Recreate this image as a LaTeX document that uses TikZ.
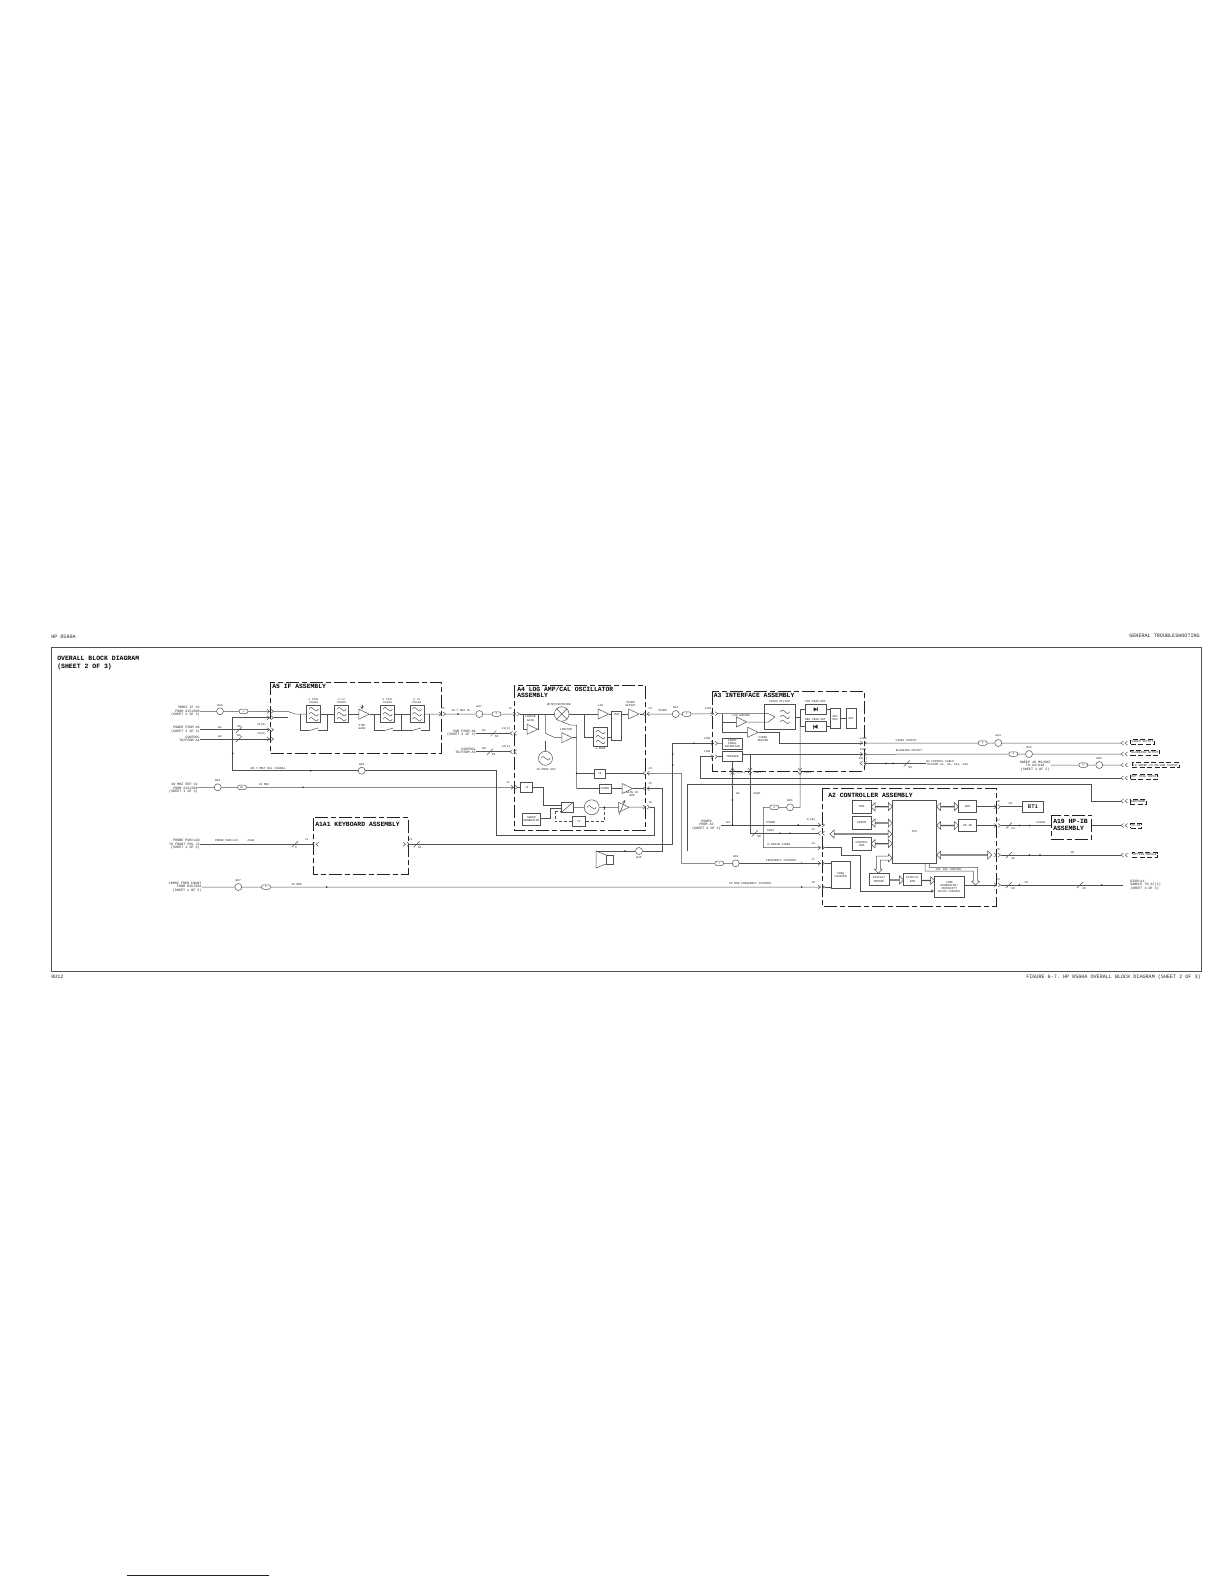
\documentclass[tikz,border=0pt]{standalone}
\usepackage{fontspec}
\setmonofont{Liberation Mono}
\usetikzlibrary{shapes.geometric,shapes.misc,shapes.arrows}
\definecolor{myink}{RGB}{80,80,80}
\definecolor{mytext}{RGB}{35,35,35}
\definecolor{mylink}{RGB}{20,20,150}
\tikzset{
  % wires and frames
  ln/.style={draw=myink},
  asm/.style={draw=mytext,line width=0.9pt,dash pattern=on 13pt off 3pt on 5pt off 3pt},
  dash1/.style={draw=myink,dash pattern=on 3pt off 2pt},
  % text
  hdr/.style={inner sep=0mm,text=mytext,font=\ttfamily\fontsize{5.1}{5.6}\selectfont,align=left},
  ttl/.style={inner sep=0mm,text=black,font=\ttfamily\bfseries\fontsize{6.4}{7}\selectfont,align=left},
  lbl/.style={inner sep=0mm,text=mytext,font=\ttfamily\fontsize{3.4}{3.7}\selectfont,align=center},
  sm/.style={inner sep=0mm,text=mytext,font=\ttfamily\fontsize{2.9}{3.3}\selectfont,align=center},
  % blocks
  box/.style={rectangle,draw=myink,inner sep=0mm,text=mytext,font=\ttfamily\fontsize{2.9}{3.3}\selectfont,align=center},
  dbox/.style={rectangle,draw=mytext,line width=0.7pt,dash pattern=on 5pt off 2.5pt,inner xsep=1pt,inner ysep=1.4pt,text=mytext,font=\ttfamily\fontsize{3}{3.3}\selectfont},
  cab/.style={circle,draw=myink,inner sep=0mm,minimum size=7pt},
  pil/.style={rounded rectangle,draw=myink,inner sep=0mm,minimum width=9pt,minimum height=4.5pt,text=mytext,font=\ttfamily\fontsize{2.6}{3}\selectfont},
  ampn/.style={isosceles triangle,isosceles triangle stretches,draw=myink,inner sep=0mm,minimum width=10pt,minimum height=10.5pt},
  busd/.style={double arrow,draw=myink,inner sep=0mm,minimum width=8pt,double arrow head extend=2pt},
  buss/.style={single arrow,draw=myink,inner sep=0mm,minimum width=8pt,single arrow head extend=2pt},
  every picture/.style={line width=0.5pt}
}
% connector pairs, names give #1-a and #1-b
\newcommand\jackr[3]{\coordinate (#1-a) at (#2+2.5,#3); \coordinate (#1-b) at (#2+6.5,#3);
  \draw[ln] (#2,#3-2) -- (#2+2.5,#3) -- (#2,#3+2) (#2+4,#3-2) -- (#2+6.5,#3) -- (#2+4,#3+2);}
\newcommand\jackl[3]{\coordinate (#1-a) at (#2,#3); \coordinate (#1-b) at (#2+4,#3);
  \draw[ln] (#2+2.5,#3-2) -- (#2,#3) -- (#2+2.5,#3+2) (#2+6.5,#3-2) -- (#2+4,#3) -- (#2+6.5,#3+2);}
\newcommand\jackd[2]{\draw[ln] (#1-2,#2) -- (#1,#2+2.5) -- (#1+2,#2) (#1-2,#2+4) -- (#1,#2+6.5) -- (#1+2,#2+4);}
\newcommand\jacku[2]{\draw[ln] (#1-2,#2+2.5) -- (#1,#2) -- (#1+2,#2+2.5) (#1-2,#2+6.5) -- (#1,#2+4) -- (#1+2,#2+6.5);}
% marks on wires
\newcommand\adot[2]{\fill[mytext] (#1,#2) circle (0.9);}
\newcommand\slashm[2]{\draw[ln] (#1-3,#2+3) -- (#1+3,#2-3);}
\newcommand\swarm[3]{\draw[ln] (#1,#3) -- (#2,#3-2.7);}
\newcommand\wavs[2]{\draw[ln] (#1-4.5,#2) .. controls (#1-1.5,#2-6) and (#1+1.5,#2+6) .. (#1+4.5,#2);}
\newcommand\wav[2]{\wavs{#1}{#2-5}\wavs{#1}{#2}\wavs{#1}{#2+5}}
\newcommand\diode[3]{\fill[mytext] (#1-#3*2,#2-2) -- (#1+#3*2,#2) -- (#1-#3*2,#2+2) -- cycle; \draw[ln] (#1+#3*2,#2-2) -- (#1+#3*2,#2+2);}
\begin{document}
\begin{tikzpicture}[x=1pt,y=-1pt]
\useasboundingbox (0,0) rectangle (1224,1584);
\draw[ln] (51,647.5) rectangle (1201,971);
\node[hdr,anchor=west] (thp) at (51,637) {HP 8560A};
\node[hdr,anchor=east] (tgen) at (1200,636) {GENERAL TROUBLESHOOTING};
\node[hdr,anchor=west] (tpg) at (51,977) {0U12};
\node[hdr,anchor=east] (tfig) at (1201,977) {FIGURE 6-7. HP 8560A OVERALL BLOCK DIAGRAM (SHEET 2 OF 3)};
\node[ttl,anchor=west,font=\ttfamily\bfseries\fontsize{6.5}{7}\selectfont] (ttop) at (57,658) {OVERALL BLOCK DIAGRAM};
\node[ttl,anchor=west,font=\ttfamily\bfseries\fontsize{6.5}{7}\selectfont] (tsub) at (57,667) {(SHEET 2 OF 3)};
\coordinate (lk1) at (127.3,1575);
\coordinate (lk2) at (268.7,1575);
\draw[mylink,line width=1pt] (lk1) -- (lk2);
%%%%%%%%%%%%%%%%%%%%%%%%%%%%%%%%%%%%%%% A5
\draw[asm] (270,682) rectangle (441.7,753);
\node[ttl,anchor=west] (ta5) at (272,686) {A5 IF ASSEMBLY};
\jackr{ja}{267}{711.3}
\jackr{jb}{267}{717.7}
\jackr{jc}{267}{729.7}
\jackr{jd}{267}{739}
\jackr{jp1}{439}{714}
\node[lbl,anchor=east,align=right] (tin1) at (200,711.3) {70MHZ IF \#2\\FROM A15J600\\(SHEET 1 OF 3)};
\node[lbl,anchor=east,align=right] (tin2) at (200,729.7) {POWER FROM A6\\(SHEET 3 OF 3)};
\node[lbl,anchor=east,align=right] (tin3) at (200,739) {CONTROL\\TO/FROM A4};
\node[cab] (w20) at (220,711.3) {};
\node[sm] (tw20) at (220,705.5) {W20};
\node[pil] (p1) at (243.5,711.3) {1};
\node[sm] (tw1a) at (220,727.5) {W1};
\node[sm] (tw2a) at (220,737) {W2};
\node[sm] (t50a) at (239,726.5) {50};
\node[sm] (t50b) at (239,736) {W5};
\node[sm] (tj1a) at (261.5,724.7) {J1(8)};
\node[sm] (tj2a) at (261.5,734) {J2(6)};
\node[box,minimum width=14pt,minimum height=17pt] (f1) at (313.7,714.2) {};
\node[box,minimum width=14pt,minimum height=17pt] (f2) at (341.7,714.2) {};
\node[ampn] (astep) at (362,714.2) {};
\node[box,minimum width=14pt,minimum height=17pt] (f3) at (387.7,714.2) {};
\node[box,minimum width=14pt,minimum height=17pt] (f4) at (417,714.2) {};
\wav{313.7}{714.2}
\wav{341.7}{714.2}
\wav{387.7}{714.2}
\wav{417}{714.2}
\node[sm] (tf1) at (313.7,700.8) {2 XTAL\\POLES};
\node[sm] (tf2) at (341.7,700.8) {2 LC\\POLES};
\node[sm] (tf3) at (387.7,700.8) {2 XTAL\\POLES};
\node[sm] (tf4) at (417,700.8) {2 LC\\POLES};
\node[sm] (tstep) at (362,727) {STEP\\GAIN};
\draw[ln,-stealth] (362,704.5) -- (362,709.5);
\coordinate (sw1) at (288,711.5);
\coordinate (sw1e) at (296,714.2);
\coordinate (sw2) at (288,717.7);
\draw[ln] (tin1) -- (w20) -- (p1) -- (ja-a);
\draw[ln] (ja-b) -- (sw1) -- (sw1e) -- (f1);
\draw[ln] (jb-b) -- (sw2);
\draw[ln] (tin2) -- (jc-a);
\draw[ln] (tin3) -- (jd-a);
\draw[ln] (f1) -- (f2);
\draw[ln] (f2) -- (astep);
\draw[ln] (astep) -- (f3);
\draw[ln] (f3) -- (f4);
\draw[ln] (f4) -- (jp1-a);
\coordinate (b1a) at (300,714.2);
\coordinate (s1a) at (309,730.7);
\coordinate (s1b) at (318,730.7);
\coordinate (b1e) at (327.3,714.2);
\coordinate (b2a) at (374.3,714.2);
\coordinate (s2a) at (384,730.7);
\coordinate (s2b) at (393.3,730.7);
\coordinate (b2e) at (401.7,714.2);
\coordinate (s3a) at (411.7,730.7);
\coordinate (s3b) at (420.7,730.7);
\coordinate (b3e) at (429,714.2);
\draw[ln] (b1a) |- (s1a);
\draw[ln] (s1b) -| (b1e);
\draw[ln] (b2a) |- (s2a);
\draw[ln] (s2b) -| (b2e);
\draw[ln] (b2e) |- (s3a);
\draw[ln] (s3b) -| (b3e);
\swarm{309}{318}{730.7}
\swarm{384}{393.3}{730.7}
\swarm{411.7}{420.7}{730.7}
\slashm{239}{729.7}
\slashm{239}{739}
%%%%%%%%%%%%%%%%%%%%%%%%%%%%%%%%%%%%%%% A4
\draw[asm] (514,685) rectangle (645,830.7);
\node[ttl,anchor=west] (ta4a) at (517,689.3) {A4 LOG AMP/CAL OSCILLATOR};
\node[ttl,anchor=west] (ta4b) at (517,695.7) {ASSEMBLY};
\jackr{jk2}{513}{714}
\jackl{jk3}{510}{733.3}
\jackl{jk4}{510}{751.7}
\jackl{jk5}{643}{714}
\jackl{jk7}{643}{773.3}
\jackl{jk9}{643}{788.5}
\jackr{jk10}{643}{807}
\jackr{jk11}{511}{787.3}
\node[sm] (tj2) at (510,709) {J2};
\node[sm] (tj14) at (506,729) {J1(4)};
\node[sm] (tj2x) at (506,747) {J2(X)};
\node[sm] (tj1) at (508,783) {J1};
\node[sm] (tj4) at (650,709) {J4};
\node[sm] (tj3) at (650,768.5) {J3};
\node[sm] (tj5) at (650,784) {J5};
\node[sm] (tj6) at (650,802.5) {J6};
\node[sm] (tp1) at (443,709) {P1};
\node[sm,anchor=west] (t107) at (451,710.7) {10.7 MHZ IF};
\node[cab] (w27) at (479.3,714) {};
\node[sm] (tw27) at (479.3,707) {W27};
\node[pil] (p2) at (496.5,714) {1};
\draw[ln] (jp1-b) -- (w27) -- (p2) -- (jk2-a);
\adot{458}{714}
\node[lbl,anchor=east,align=right] (tpw) at (476,733.3) {PWR FROM A6\\(SHEET 3 OF 3)};
\node[lbl,anchor=east,align=right] (tct) at (476,751) {CONTROL\\TO/FROM A5};
\node[sm] (tw1b) at (484,730.5) {W1};
\node[sm] (tw6) at (484,749) {W6};
\node[sm] (t50c) at (496.5,737) {50};
\node[sm] (t50d) at (493.5,755) {50};
\draw[ln] (tpw) -- (jk3-a);
\draw[ln] (tct.east |- jk4-a) -- (jk4-a);
\slashm{493.3}{733.3}
\slashm{490}{751.7}
\node[circle,draw=myink,inner sep=0mm,minimum size=14.6pt] (mix) at (561.7,714) {};
\draw[ln] (mix.north west) -- (mix.south east);
\draw[ln] (mix.north east) -- (mix.south west);
\node[sm] (tmix) at (559,704) {DETECTOR/MIXER};
\node[ampn] (alin) at (530.3,729.3) {};
\node[sm] (tlin) at (530.3,718.5) {LINEAR\\GAIN};
\node[ampn] (alim) at (565,737.7) {};
\node[sm] (tlim) at (566,730) {LIMITER};
\node[circle,draw=myink,inner sep=0mm,minimum size=14pt] (osc1) at (545.5,758.3) {};
\wavs{545.5}{758.3}
\node[sm] (tosc) at (546,770) {10.6MHZ OSC};
\node[ampn] (alog) at (601.3,714) {};
\node[sm] (tlog) at (600.7,706) {LOG};
\node[box,minimum width=14.4pt,minimum height=19.4pt] (f5) at (600.5,737) {};
\wav{600.5}{737}
\node[sm] (tf5) at (600.5,748.5) {4.8KHZ};
\node[box,anchor=north,minimum width=10pt,minimum height=29.3pt] (mux) at (616.7,710.7) {};
\node[sm] (tmux) at (616.7,714.3) {MUX};
\node[ampn] (avid) at (631.7,714) {};
\node[sm] (tvid) at (630.7,704.2) {VIDEO\\OFFSET};
\coordinate (lga) at (523.3,714);
\coordinate (lgb) at (538.3,714);
\coordinate (jm) at (545.5,714);
\coordinate (sw3) at (545.5,733.3);
\coordinate (sw3b) at (555,737.7);
\coordinate (swo) at (545.5,741);
\coordinate (mxb) at (570,725);
\coordinate (lm2) at (576.7,725);
\coordinate (lm3) at (576.7,788.5);
\coordinate (lmo) at (576.7,737.7);
\coordinate (jd1) at (576.7,773.3);
\coordinate (jl) at (584,714);
\draw[ln] (jk2-b) -- (mix);
\draw[ln] (lga) |- (alin);
\draw[ln] (lgb) |- (alin);
\draw[ln] (jm) -- (sw3) -- (sw3b) -- (alim);
\draw[ln] (osc1) -- (swo);
\draw[ln] (mix.south) -- (mxb) -- (lm2) -- (lm3);
\draw[ln] (alim) -- (lmo);
\draw[ln] (mix) -- (alog);
\draw[ln] (jl) |- (f5);
\draw[ln] (f5.east) -- (f5.east -| mux.west);
\draw[ln] (alog) -- (alog -| mux.west);
\draw[ln] (alog -| mux.east) -- (avid);
\draw[ln] (avid) -- (jk5-a);
\adot{576.7}{773.3}
\node[box,minimum width=11pt,minimum height=9pt] (d1) at (599.5,773.3) {÷8};
\node[box,minimum width=11.7pt,minimum height=9.3pt] (cmb) at (605,788.5) {COMBO};
\node[ampn] (again) at (625.3,788.5) {};
\node[sm] (tgain) at (632,794.3) {GAIN 10\\AMP};
\draw[ln] (jd1) -- (d1) -- (jk7-a);
\draw[ln] (lm3) -- (cmb) -- (again) -- (jk9-a);
\node[box,minimum width=12pt,minimum height=9.7pt] (d2) at (526.7,787.3) {÷8};
\node[box,minimum width=12.3pt,minimum height=10.4pt] (vco) at (567,807.5) {};
\draw[ln] (vco.south west) -- (vco.north east);
\node[box,minimum width=18.4pt,minimum height=12.3pt] (swp) at (531.5,819) {SWEEP\\GENERATOR};
\node[circle,draw=myink,inner sep=0mm,minimum size=15pt] (osc2) at (591.7,807.3) {};
\wavs{591.7}{807.3}
\node[ampn] (aosc) at (621.7,807.3) {};
\draw[ln,-stealth] (619,815) -- (625,800);
\node[box,minimum width=12.7pt,minimum height=10pt] (d3) at (578.7,821.7) {÷8};
\coordinate (v1) at (543.3,787.3);
\coordinate (v2) at (543.3,805.7);
\coordinate (s1) at (550.7,818.5);
\coordinate (s2) at (550.7,808.3);
\coordinate (jd2) at (604.3,807.3);
\coordinate (jd3) at (555,811.7);
\draw[ln] (jk11-b) -- (d2) -- (v1) -- (v2) -- (v2 -| vco.west);
\draw[ln] (swp.east |- s1) -- (s1) -- (s2) -- (s2 -| vco.west);
\draw[ln] (vco) -- (osc2) -- (aosc) -- (jk10-a);
\draw[dash1] (jd2) |- (d3);
\draw[dash1] (d3) -| (jd3);
\draw[dash1] (jd3) -- (jd3 -| vco.west);
\adot{604.3}{807.3}
%%%%%%%%%%%%%%%%%%%%%%%%%%%%%%%%%%%%%%% wires round A4
\node[cab] (w53) at (361.7,770.7) {};
\node[sm] (tw53) at (361.7,764.3) {W53};
\node[hdr,font=\ttfamily\fontsize{3.1}{3.5}\selectfont] (tcal) at (268,768.3) {10.7 MHZ CAL SIGNAL};
\coordinate (r1) at (654,807);
\coordinate (r2) at (654,835.7);
\coordinate (r3) at (496,835.7);
\coordinate (r4) at (496,770.7);
\coordinate (r5) at (232.7,770.7);
\coordinate (r6) at (232.7,717.7);
\draw[ln] (jk10-b) -- (r1) -- (r2) -- (r3) -- (r4) -- (w53) -- (r5) -- (r6) -- (jb-a);
\adot{232.7}{753.3}
\adot{310.7}{770.7}
\node[lbl,anchor=east,align=right] (tin5) at (198,788.5) {10 MHZ REF \#2\\FROM A21J506\\(SHEET 1 OF 3)};
\node[cab] (w61) at (217.7,787.3) {};
\node[sm] (tw61) at (217.7,781) {W61};
\node[pil] (p5) at (242,787.3) {B1};
\node[sm] (t10m) at (264,785) {10 MHZ};
\draw[ln] (tin5.east |- w61) -- (w61) -- (p5) -- (jk11-a);
\adot{303}{787.3}
\node[cab] (w45) at (639,851) {};
\node[sm] (tw45) at (639,857.5) {W45};
\coordinate (e1) at (662.5,788.5);
\coordinate (e2) at (662.5,851);
\coordinate (e3) at (596,851);
\draw[ln] (jk9-b) -- (e1) -- (e2) -- (w45) -- (e3);
\adot{625}{851}
\draw[ln] (606,855) rectangle (613,864);
\draw[ln] (606,855) -- (596,851) -- (596,868) -- (606,864);
\coordinate (vj1) at (681.7,773.3);
\coordinate (vj3) at (681.7,863.3);
\node[pil] (p7) at (719.3,863.3) {7};
\node[cab] (w33) at (735.7,863.3) {};
\node[sm] (tw33) at (735.7,856.7) {W33};
\node[sm] (tfrq) at (781,860.7) {FREQUENCY COUNTER};
\draw[ln] (jk7-b) -- (vj1) -- (vj3) -- (p7) -- (w33);
\adot{801.7}{863.3}
%%%%%%%%%%%%%%%%%%%%%%%%%%%%%%%%%%%%%%% A1A1
\draw[asm] (313.3,817.7) rectangle (408.3,874);
\node[ttl,anchor=west] (ta1) at (315,824.3) {A1A1 KEYBOARD ASSEMBLY};
\jackl{jk12}{312}{844.3}
\jackr{jk13}{403}{844.3}
\jackr{jk14}{711}{743.3}
\node[lbl,anchor=east,align=right] (tin6) at (200,844.3) {PROBE PWR/LCD\\TO FRONT PNL J2\\(SHEET 1 OF 3)};
\node[sm] (tprb) at (226.5,840.7) {PROBE PWR/LCD};
\node[sm] (ta1w) at (251,840.7) {A1W1};
\node[sm] (tj2k) at (306.7,840) {J2};
\node[sm] (tj1k) at (410.5,840) {J1};
\node[sm] (t6) at (296,848) {6};
\node[sm] (t26a) at (419.5,847.5) {26};
\coordinate (kb1) at (672.7,844.3);
\coordinate (kb2) at (672.7,743.3);
\draw[ln] (tin6) -- (jk12-a);
\draw[ln] (jk13-b) -- (kb1) -- (kb2) -- (jk14-a);
\slashm{295}{844.3}
\slashm{416.7}{844.3}
\adot{672.7}{754}
\adot{672.7}{765}
\adot{694}{743.3}
%%%%%%%%%%%%%%%%%%%%%%%%%%%%%%%%%%%%%%% A4 output to A3
\node[cab] (w34) at (675.7,714) {};
\node[sm] (tw34) at (675.7,708) {W34};
\node[pil] (p3) at (686.7,714) {2};
\node[sm] (tvo) at (662.7,711) {VIDEO};
\jackr{jk6}{711}{713.7}
\draw[ln] (jk5-b) -- (w34) -- (p3) -- (jk6-a);
%%%%%%%%%%%%%%%%%%%%%%%%%%%%%%%%%%%%%%% A3
\draw[asm] (712.3,691.7) rectangle (864.3,771);
\node[ttl,anchor=west] (ta3) at (713.5,695.7) {A3 INTERFACE ASSEMBLY};
\node[sm] (tj101) at (708,708.5) {J101};
\node[sm] (tj103) at (707,739) {J103};
\node[sm] (tj104) at (707,752) {J104};
\node[box,minimum width=31pt,minimum height=25pt] (vf) at (779.5,716.8) {};
\node[sm] (tvf) at (779.5,702) {VIDEO FILTER};
\wav{785}{716.8}
\coordinate (vfa) at (768.3,713.7);
\coordinate (vfb) at (775,716.8);
\coordinate (vfc) at (768.3,722);
\node[ampn] (alog2) at (739.5,722) {};
\node[sm] (tlexp) at (741,715.2) {LOG EXPAND};
\node[ampn] (abuf) at (750.8,732.3) {};
\node[sm] (tbuf) at (763,738.7) {VIDEO\\BUFFER};
\node[box,minimum width=21pt,minimum height=10pt] (pos) at (815.5,709.3) {};
\node[sm] (tpos) at (815.5,701.7) {POS PEAK DET};
\node[box,minimum width=21pt,minimum height=10pt] (neg) at (815.5,726.7) {};
\node[sm] (tneg) at (815.5,719.3) {NEG PEAK DET};
\diode{815.5}{709.3}{1}
\diode{815.5}{726.7}{-1}
\node[box,minimum width=9.7pt,minimum height=20pt] (amx) at (835.2,718.3) {ADC\\MUX};
\node[box,minimum width=10.7pt,minimum height=20pt] (adc) at (851.3,718.3) {ADC};
\node[box,minimum width=20.4pt,minimum height=10.7pt] (fpi) at (732.5,743.7) {FRONT\\PANEL\\INTERFACE};
\node[box,minimum width=20.4pt,minimum height=10pt] (trg) at (732.5,756.7) {TRIGGER};
\coordinate (jl2) at (722.3,713.7);
\coordinate (jp) at (800,716.8);
\coordinate (b1) at (779.3,732.3);
\coordinate (b2) at (779.3,743);
\coordinate (tg1) at (742.7,754.3);
\jackr{jk15}{860}{743}
\jackr{jk17}{860}{754.3}
\jackl{jk21}{860}{763.3}
\jackr{jk19}{711}{756.7}
\draw[ln] (jk6-b) -- (vfa) -- (vfb);
\draw[ln] (alog2) -- (vfc) -- (vfb);
\draw[ln] (jl2) |- (alog2);
\draw[ln] (jl2) |- (abuf);
\draw[ln] (abuf) -- (b1) -- (b2) -- (jk15-a);
\draw[ln] (vf) -- (jp);
\draw[ln] (jp) |- (pos);
\draw[ln] (jp) |- (neg);
\draw[ln] (pos.east) -- (pos.east -| amx.west);
\draw[ln] (neg.east) -- (neg.east -| amx.west);
\draw[ln] (amx) -- (adc);
\draw[ln] (jk14-b) -- (fpi);
\draw[ln] (jk19-b) -- (trg);
\draw[ln] (tg1) -- (jk17-a);
\node[sm] (tj100) at (863,738.3) {J100};
\node[sm] (tj601) at (863,750) {J601};
\node[sm] (tj64) at (863,759) {J6(4)};
\node[sm] (tj24) at (741,773) {J(24)};
\node[sm] (tj60b) at (757.7,773) {J601};
\node[sm] (tj105) at (807.3,773) {J105};
\jacku{732.5}{768}
\jackd{750}{768}
\jackd{800}{768}
%%%%%%%%%%%%%%%%%%%%%%%%%%%%%%%%%%%%%%% A3 outputs
\node[pil] (p8) at (982.7,743) {3};
\node[cab] (w35) at (998.3,743) {};
\node[sm] (tw35) at (998.3,736) {W34};
\node[pil] (p9) at (1013.3,754) {6};
\node[cab] (w33b) at (1029,754) {};
\node[sm] (tw33b) at (1029,747.3) {W33};
\node[sm] (tvio) at (906,740.7) {VIDEO OUTPUT};
\node[sm] (tbko) at (909,750.7) {BLANKING OUTPUT};
\jackl{jk16}{1121}{743}
\jackl{jk18}{1121}{754}
\jackl{jk20}{1121}{778}
\jackl{jk22}{1121}{801}
\jackl{jk33}{1121}{765}
\draw[ln] (jk15-b) -- (p8) -- (w35) -- (jk16-a);
\draw[ln] (jk17-b) -- (p9) -- (w33b) -- (jk18-a);
\node[dbox] (dvo) at (1142.5,742) {VIDEO OUTPUT};
\node[dbox] (dbo) at (1145.2,752.5) {BLANKING OUTPUT};
\node[dbox] (dlo) at (1155.5,765.3) {LO SWEEP 10 MS/GHZ OUTPUT};
\node[dbox] (det) at (1144.2,777) {EXT TRIG INPUT};
\node[dbox] (dea) at (1138.3,801.7) {EARPHONE};
\node[lbl,anchor=east,align=center] (tsw) at (1050.7,766) {SWEEP 10 MS/GHZ\\TO A1/A18\\(SHEET 1 OF 3)};
\node[pil] (p37) at (1083.3,765) {37};
\node[cab] (w50) at (1099.3,765) {};
\node[sm] (tw50) at (1099.3,758.7) {W50};
\draw[ln] (tsw.east |- p37) -- (p37) -- (w50) -- (jk33-a);
\node[sm,anchor=west,align=left] (tcab) at (926,763.3) {W3 CONTROL CABLE\\TO/FROM A4, A5, A14, A15};
\draw[ln] (jk21-b) -- (tcab);
\slashm{906.7}{763.5}
\node[sm] (t50e) at (910,767.5) {50};
\adot{886}{763.4}
\adot{893}{763.4}
\coordinate (et1) at (700,756.7);
\coordinate (et2) at (700,778);
\draw[ln] (jk19-a) -- (et1) -- (et2) -- (jk20-a);
\coordinate (eb2) at (687.3,784);
\coordinate (eb1) at (687.3,851);
\coordinate (eb3) at (1091.7,784);
\coordinate (eb4) at (1091.7,801);
\draw[ln] (eb1) -- (eb2) -- (eb3) -- (eb4) -- (jk22-a);
%%%%%%%%%%%%%%%%%%%%%%%%%%%%%%%%%%%%%%% A2
\draw[asm] (822.7,788.3) rectangle (996,906.7);
\node[ttl,anchor=west] (ta2) at (828,795.7) {A2 CONTROLLER ASSEMBLY};
\node[box,minimum width=18.7pt,minimum height=13.3pt] (rom) at (861.7,806.7) {ROM};
\node[box,minimum width=18.7pt,minimum height=12.6pt] (eer) at (861.7,823) {EEROM};
\node[box,minimum width=18.7pt,minimum height=12.7pt] (crm) at (861.7,843.7) {CONTROL\\RAM};
\node[box,minimum width=44.4pt,minimum height=63.3pt] (cpu) at (914.5,831.7) {CPU};
\node[box,minimum width=18.4pt,minimum height=12pt] (ram) at (967.5,806.7) {RAM};
\node[box,minimum width=18.4pt,minimum height=12.4pt] (hpb) at (967.5,825.5) {HP-IB};
\node[box,minimum width=20pt,minimum height=12.4pt] (dmm) at (879,879.5) {DISPLAY\\MEMORY};
\node[box,minimum width=18.4pt,minimum height=12.4pt] (drm) at (912.5,879.5) {DISPLAY\\RAM};
\node[box,minimum width=30pt,minimum height=20.6pt] (lgn) at (949.3,887) {LINE\\GENERATOR/\\INTENSITY\\FOCUS CONTROL};
\node[box,minimum width=18.3pt,minimum height=26.6pt] (frq) at (840.8,875) {FREQ\\COUNTER};
\node[busd,minimum height=21.3pt] (br1) at (881.7,806.7) {};
\node[busd,minimum height=21.3pt] (br2) at (881.7,823) {};
\node[busd,minimum height=21.3pt] (br3) at (881.7,843.7) {};
\node[busd,minimum height=21.7pt] (br4) at (947.5,806.7) {};
\node[busd,minimum height=21.7pt] (br5) at (947.5,825.5) {};
\node[busd,minimum height=62pt] (br6) at (861,834) {};
\node[busd,minimum height=55pt] (br7) at (964.2,855) {};
\node[buss,minimum height=14pt] (br8) at (896.2,880) {};
\node[buss,minimum height=12.6pt] (br9) at (928,880.5) {};
\draw[ln] (892.3,858) -- (888.3,854) -- (888.3,856) -- (876.3,856) -- (876.3,869) -- (874.3,869) -- (878.3,873.3) -- (882.3,869) -- (880.3,869) -- (880.3,860) -- (888.3,860) -- (888.3,862) -- cycle;
\draw[ln] (925,863.3) -- (925,871) -- (973.3,871) -- (973.3,881) -- (971.5,881) -- (975.5,885) -- (979.7,881) -- (977.5,881) -- (977.5,867.3) -- (929.3,867.3) -- (929.3,863.3);
\node[sm] (tcal2) at (949,869.2) {CAL OSC CONTROL};
\jackr{jk23}{818}{825}
\jackl{jk24}{818}{833.3}
\jackr{jk25}{818}{847.7}
\jackr{jk8}{818}{863.3}
\jackr{jk26}{818}{887}
\draw[ln] (w33) -- (jk8-a);
\draw[ln] (jk8-b) -- (jk8-b -| frq.west);
\draw[ln] (jk26-b) -- (jk26-b -| frq.west);
\node[lbl,anchor=east,align=center] (tin8) at (721,825) {POWER\\FROM A2\\(SHEET 3 OF 3)};
\node[sm] (tw1c) at (728.3,822.5) {W1};
\node[sm] (tpwr) at (771,822.3) {POWER};
\node[sm] (tasw) at (770.5,831) {ASWT};
\node[sm] (tddr) at (779,844.7) {D-DRAIN VIDEO};
\node[sm] (tj18) at (811,820) {J(18)};
\node[sm] (tj2c) at (813,829.5) {J2};
\node[sm] (tj4c) at (813,844) {J4};
\node[sm] (tj7c) at (813,859.5) {J7};
\node[sm] (tj8c) at (813,882.5) {J8};
\draw[ln] (tin8) -- (jk23-a);
\adot{798.3}{825}
\coordinate (vt1) at (732.5,825);
\draw[ln] (trg.south) -- (vt1);
\adot{732.5}{825}
\adot{732.5}{800}
\node[sm] (tw1d) at (738,794) {W1};
\node[sm] (tasw2) at (757,793.3) {ASWT};
\coordinate (vt2) at (750,754.3);
\coordinate (vt3) at (750,833.3);
\draw[ln] (vt2) -- (vt3) -- (jk24-a);
\slashm{755}{833.3}
\node[sm] (t50f) at (759,836.8) {50};
\adot{780}{833.3}
\adot{790}{833.3}
\coordinate (vv2) at (800,807.3);
\coordinate (vv3) at (763.3,807.3);
\coordinate (vv4) at (763.3,847.7);
\node[cab] (w03) at (790,807.3) {};
\node[sm] (tw03) at (790,800.5) {W03};
\node[pil] (p10) at (774.3,807.3) {8};
\draw[ln] (jp) -- (vv2) -- (w03) -- (p10) -- (vv3) -- (vv4) -- (jk25-a);
\coordinate (d1x) at (841.7,847.7);
\coordinate (d2x) at (841.7,855);
\coordinate (d3x) at (860,855);
\coordinate (d4x) at (860,891);
\draw[ln] (jk25-b) -- (d1x) -- (d2x) -- (d3x) -- (d4x);
\draw[ln,-stealth] (d4x) -- (d4x -| lgn.west);
%%%%%%%%%%%%%%%%%%%%%%%%%%%%%%%%%%%%%%% bottom input
\node[lbl,anchor=east,align=right] (tin9) at (201.7,887) {10MHZ FREQ COUNT\\FROM A15J502\\(SHEET 1 OF 3)};
\node[cab] (w67) at (238.3,887) {};
\node[sm] (tw67) at (238.3,881) {W67};
\node[pil] (p11) at (266,887) {9};
\node[sm] (t10b) at (296.5,884.3) {10 MHZ};
\node[sm] (t10c) at (750,883.6) {10 MHZ FREQUENCY COUNTER};
\draw[ln] (tin9) -- (w67) -- (p11) -- (jk26-a);
\adot{326.7}{887}
\adot{801.7}{887}
%%%%%%%%%%%%%%%%%%%%%%%%%%%%%%%%%%%%%%% right of A2
\jackr{jk27}{994}{806.7}
\jackr{jk28}{994}{825.5}
\jackr{jk30}{994}{855}
\jackr{jk32}{994}{885}
\jackl{jk29}{1121}{825.5}
\jackl{jk31}{1121}{855}
\node[sm] (tj8r) at (998,802) {J8};
\node[sm] (tj7r) at (998,820.5) {J7};
\node[sm] (tj6r) at (998,850) {J6};
\node[sm] (tj3r) at (998,880) {J3};
\node[box,minimum width=20.6pt,minimum height=11.3pt,font=\ttfamily\bfseries\fontsize{5.6}{6}\selectfont] (bt1) at (1033,806.7) {BT1};
\node[sm] (tw1e) at (1010.7,804) {W1};
\draw[ln] (ram) -- (jk27-a);
\draw[ln] (jk27-b) -- (bt1);
\draw[asm] (1051,815) rectangle (1091.7,839.3);
\node[ttl,anchor=west] (ta19a) at (1053,821) {A19 HP-IB};
\node[ttl,anchor=west] (ta19b) at (1053,828) {ASSEMBLY};
\coordinate (a19l) at (1051,825.5);
\coordinate (a19r) at (1091.7,825.5);
\draw[ln] (hpb) -- (jk28-a);
\draw[ln] (jk28-b) -- (a19l);
\draw[ln] (a19r) -- (jk29-a);
\slashm{1009}{825.5}
\node[sm] (t24) at (1013,829) {24};
\adot{1019.3}{825.5}
\adot{1029.3}{825.5}
\node[sm] (ta19w) at (1041,822.7) {A19W1};
\node[dbox] (dhp) at (1136,826) {HP-IB};
\draw[ln] (jk30-b) -- (jk31-a);
\slashm{1009}{855}
\node[sm] (t50g) at (1013,858.5) {50};
\adot{1029.3}{855}
\adot{1040}{855}
\node[sm] (tw4) at (1072.7,852.3) {W4};
\node[dbox] (dop) at (1145,855) {OPTION MODULE};
\coordinate (lg1) at (964.3,885);
\coordinate (dd1) at (1123,885);
\draw[ln] (lg1) -- (jk32-a);
\draw[ln] (jk32-b) -- (dd1);
\slashm{1009}{885}
\node[sm] (t26b) at (1013,888.5) {26};
\adot{1019.3}{885}
\node[sm] (tw7) at (1026.7,882.3) {W7};
\slashm{1080}{885}
\node[sm] (t16) at (1084,888.5) {16};
\adot{1101.7}{885}
\node[lbl,anchor=west,align=left] (tdsp) at (1130,885) {DISPLAY\\SAMPLE TO A7(1)\\(SHEET 3 OF 3)};
\end{tikzpicture}
\end{document}
